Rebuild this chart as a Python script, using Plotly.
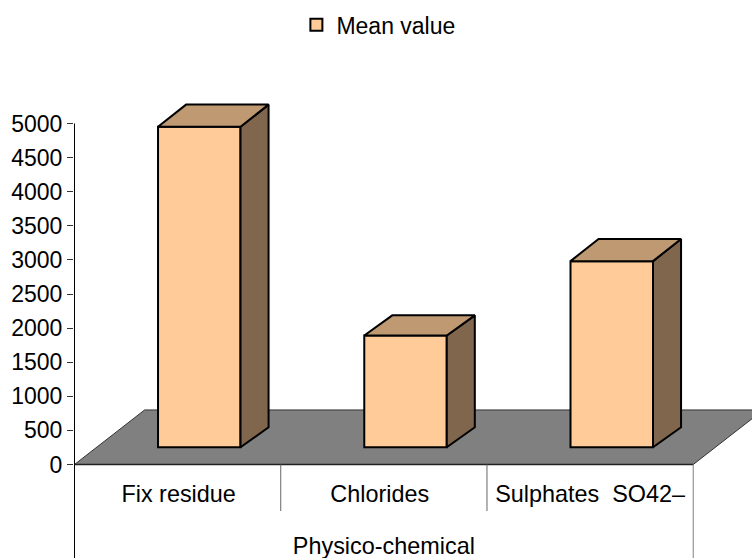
import plotly.graph_objects as go

categories = ["Fix residue", "Chlorides", "Sulphates  SO42\u2013"]
values = [4700, 1640, 2730]
group_label = "Physico-chemical"
series_name = "Mean value"
y_ticks = [0, 500, 1000, 1500, 2000, 2500, 3000, 3500, 4000, 4500, 5000]

# 3-D look, expressed in axis units
FLOOR_LIFT = 252      # front of the bars stands this far above the axis zero
BAR_WIDTH = 0.40
BAR_SHIFT = 0.105
DEPTH_X = 0.136
DEPTH_Y_TOP = [325, 295, 325]
DEPTH_Y_BOTTOM = 295
FLOOR_X = 0.34
FLOOR_Y = 800
SEP_BOTTOM = -682
CAT_LABEL_Y = -460
CAT_LABEL_NUDGE = [0.005, -0.02, 0.0]
GROUP_LABEL_Y = -1225

FRONT, TOP, SIDE = "#FFCC99", "#BF9972", "#80664D"
FONT = "Liberation Sans, Arial, sans-serif"
SIZE = 23
LABEL_SIZE = 23.4

X_MIN, X_MAX = -0.5, 2.785
Y_MIN, Y_MAX = -1371, 6811

fig = go.Figure()

xc = [i + BAR_SHIFT for i in range(len(values))]
fig.add_trace(go.Bar(
    x=xc, y=values, base=[FLOOR_LIFT] * len(values), width=BAR_WIDTH, name=series_name,
    marker=dict(color=FRONT, line=dict(color="black", width=2)), showlegend=True))

for c, v, dy in zip(xc, values, DEPTH_Y_TOP):
    l, r = c - BAR_WIDTH / 2, c + BAR_WIDTH / 2
    t = FLOOR_LIFT + v
    fig.add_trace(go.Scatter(
        x=[r, r + DEPTH_X, r + DEPTH_X, r, r],
        y=[FLOOR_LIFT, FLOOR_LIFT + DEPTH_Y_BOTTOM, t + dy, t, FLOOR_LIFT],
        mode="lines", fill="toself", fillcolor=SIDE, line=dict(color="black", width=2),
        showlegend=False, hoverinfo="skip"))
    fig.add_trace(go.Scatter(
        x=[l, l + DEPTH_X, r + DEPTH_X, r, l],
        y=[t, t + dy, t + dy, t, t],
        mode="lines", fill="toself", fillcolor=TOP, line=dict(color="black", width=2),
        showlegend=False, hoverinfo="skip"))

n = len(categories)
x0 = -0.5
x1 = n - 0.5

def line(xs, ys, color="black", width=1):
    fig.add_trace(go.Scatter(x=xs, y=ys, mode="lines", line=dict(color=color, width=width),
                             showlegend=False, hoverinfo="skip", cliponaxis=False))

line([x0, x0], [Y_MIN, y_ticks[-1]])
line([x0, x1], [0, 0], "#222222", 1.5)
line([x1, x1], [Y_MIN, 0], "#808080")
for i in range(1, n):
    line([x0 + i, x0 + i], [SEP_BOTTOM, 0], "#666666")

fig.add_trace(go.Scatter(
    x=[i + d for i, d in zip(range(n), CAT_LABEL_NUDGE)], y=[CAT_LABEL_Y] * n, text=categories, mode="text",
    textfont=dict(family=FONT, size=LABEL_SIZE, color="black"), textposition="middle center",
    showlegend=False, hoverinfo="skip", cliponaxis=False))
fig.add_trace(go.Scatter(
    x=[(n - 1) / 2], y=[GROUP_LABEL_Y], text=[group_label], mode="text",
    textfont=dict(family=FONT, size=LABEL_SIZE, color="black"), textposition="middle center",
    showlegend=False, hoverinfo="skip", cliponaxis=False))

fig.update_layout(
    width=752, height=558, margin=dict(l=74, r=0, t=0, b=0),
    paper_bgcolor="white", plot_bgcolor="white",
    font=dict(family=FONT, size=SIZE, color="black"),
    legend=dict(x=0.328, y=0.994, xanchor="left", yanchor="top", itemwidth=30,
                bgcolor="rgba(0,0,0,0)", font=dict(family=FONT, size=SIZE)),
    xaxis=dict(range=[X_MIN - 0.5 / 206, X_MAX], showgrid=False, zeroline=False, showline=False,
               showticklabels=False, ticks=""),
    yaxis=dict(range=[Y_MIN, Y_MAX], showgrid=False, zeroline=False, showline=False,
               tickmode="array", tickvals=y_ticks, ticktext=[str(t) for t in y_ticks],
               ticks="outside", ticklen=6, tickcolor="#333333", tickwidth=1,
               tickfont=dict(family=FONT, size=SIZE, color="black")),
    shapes=[dict(type="path", layer="below", xref="x", yref="y",
                 path=f"M{x0},0 L{x0 + FLOOR_X},{FLOOR_Y} L{x1 + FLOOR_X},{FLOOR_Y} L{x1},0 Z",
                 fillcolor="#808080", line=dict(color="#333333", width=1))],
)

fig.write_html("out.html", config={"displayModeBar": False},
               post_script="document.body.style.margin='0';document.body.style.overflow='hidden';")
